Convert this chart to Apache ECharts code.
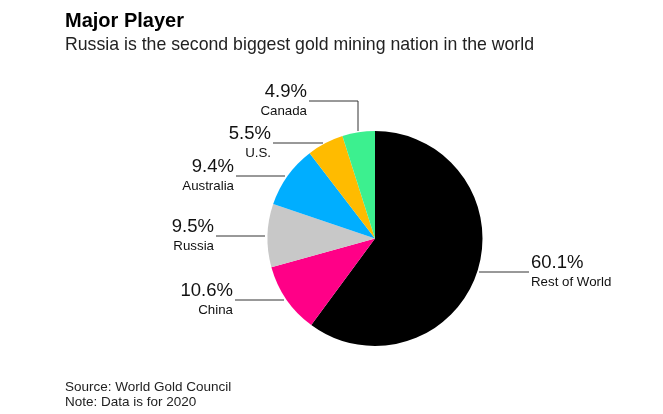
<!DOCTYPE html>
<html><head><meta charset="utf-8">
<style>html,body{margin:0;padding:0;background:#fff}#c{width:663px;height:414px}</style>
<script src="https://cdn.jsdelivr.net/npm/echarts@6/dist/echarts.min.js"></script>
</head><body><div id="c"></div>
<script>
const categories = ['Rest of World','China','Russia','Australia','U.S.','Canada'];
const shares = [60.1,10.6,9.5,9.4,5.5,4.9];
const valueLabels = ['60.1%','10.6%','9.5%','9.4%','5.5%','4.9%'];
const colors = ['#000000','#ff0087','#c8c8c8','#00aeff','#ffbb00','#3cf08f'];
const FONT = '"Liberation Sans", Arial, sans-serif';
// leader lines and label anchors, in page pixels
const layouts = [
  {x:531,y:272,align:'left',line:[[479,272],[529,272]]},
  {x:233,y:300,align:'right',line:[[284,300],[235,300]]},
  {x:214,y:236,align:'right',line:[[265,236],[216,236]]},
  {x:234,y:176,align:'right',line:[[285,176],[236,176]]},
  {x:271,y:143,align:'right',line:[[323,143],[273,143]]},
  {x:307,y:101,align:'right',line:[[358,131],[358,101],[309,101]]}
];
const chart = echarts.init(document.getElementById('c'),null,{renderer:'canvas'});
chart.setOption({
  animation:false,
  backgroundColor:'#fff',
  title:[
    {text:'Major Player',left:65,top:11,padding:0,textStyle:{fontFamily:FONT,fontSize:20,fontWeight:'bold',color:'#000'}},
    {text:'Russia is the second biggest gold mining nation in the world',left:65,top:36,padding:0,textStyle:{fontFamily:FONT,fontSize:17.7,fontWeight:'normal',color:'#222'}},
    {text:'Source: World Gold Council\nNote: Data is for 2020',left:65,top:380,padding:0,textStyle:{fontFamily:FONT,fontSize:13.5,lineHeight:15,fontWeight:'normal',color:'#222'}}
  ],
  series:[{
    type:'pie',
    center:[375,238.5],
    radius:[0,107.5],
    startAngle:90,
    clockwise:true,
    itemStyle:{borderWidth:0},
    data:categories.map((n,i)=>({name:n,value:shares[i],itemStyle:{color:colors[i]}})),
    label:{
      show:true,
      formatter:p=>`{v|${valueLabels[p.dataIndex]}}\n{n|${p.name}}`,
      rich:{
        v:{fontFamily:FONT,fontSize:18.5,lineHeight:20,color:'#111'},
        n:{fontFamily:FONT,fontSize:13.3,lineHeight:18,color:'#111'}
      }
    },
    labelLine:{show:true,lineStyle:{color:'#333',width:1}},
    labelLayout:p=>{
      const l=layouts[p.dataIndex];
      return {x:l.x,y:l.y,align:l.align,verticalAlign:'middle',labelLinePoints:l.line};
    },
    emphasis:{disabled:true}
  }]
});
</script></body></html>
